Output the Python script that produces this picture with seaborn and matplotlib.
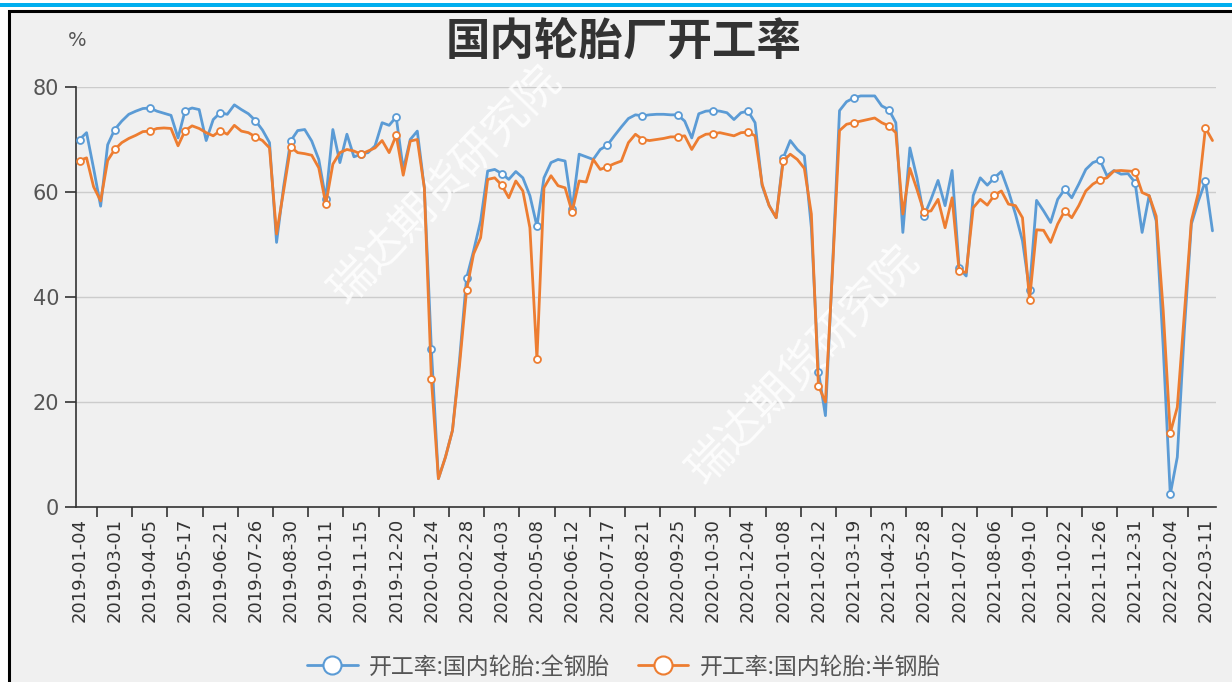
import numpy as np
import pandas as pd
import matplotlib
matplotlib.use('Agg')
import matplotlib.pyplot as plt
from matplotlib.patches import Rectangle
from matplotlib.lines import Line2D
import seaborn as sns

# weekly dates, weeks that are not in the source series are dropped
weeks = pd.date_range('2019-01-04', '2022-03-18', freq='7D')
missing = ['2019-01-25', '2019-02-01', '2019-02-08', '2019-05-03',
           '2019-10-04', '2021-10-01']
dates = weeks.drop(pd.to_datetime(missing)).strftime('%Y-%m-%d').tolist()

# 开工率:国内轮胎:全钢胎
all_steel = [70.0, 71.3, 64.5, 57.3, 69.0, 71.9, 73.5, 74.8, 75.4, 75.9,
             76.0, 75.4, 75.0, 74.6, 70.3, 75.5, 76.0, 75.7, 69.8, 73.8,
             75.1, 74.8, 76.6, 75.7, 74.9, 73.6, 71.8, 69.4, 50.4, 61.0,
             69.7, 71.7, 71.9, 69.7, 66.2, 58.6, 71.9, 65.6, 71.0, 66.7,
             67.2, 67.5, 68.8, 73.2, 72.7, 74.3, 64.3, 70.0, 71.6, 60.8,
             30.1, 5.4, 9.5, 14.6, 28.0, 43.6, 48.8, 54.5, 64.0, 64.3,
             63.5, 62.4, 63.9, 62.7, 59.3, 53.5, 62.7, 65.6, 66.2, 65.9,
             56.7, 67.2, 66.7, 66.2, 68.1, 68.9, 70.7, 72.4, 74.0, 74.7,
             74.5, 74.7, 74.8, 74.8, 74.7, 74.7, 73.5, 70.3, 74.9, 75.4,
             75.5, 75.4, 75.1, 73.8, 75.1, 75.4, 73.2, 61.2, 57.4, 55.1,
             66.5, 69.8, 68.1, 66.9, 53.2, 25.8, 17.4, 45.6, 75.5, 77.2,
             77.9, 78.3, 78.3, 78.3, 76.4, 75.7, 73.2, 52.3, 68.4, 62.7,
             55.4, 58.6, 62.2, 57.4, 64.1, 45.5, 44.0, 59.3, 62.7, 61.3,
             62.7, 63.9, 60.2, 55.8, 50.7, 41.3, 58.4, 56.4, 54.2, 58.6,
             60.5, 58.9, 61.5, 64.3, 65.6, 66.1, 63.1, 64.1, 63.4, 63.5,
             61.8, 52.3, 59.3, 54.5, 30.4, 2.4, 9.5, 33.6, 53.9, 58.3,
             62.1, 52.6]

# 开工率:国内轮胎:半钢胎
semi_steel = [66.0, 66.5, 61.0, 58.3, 66.0, 68.1, 69.4, 70.2, 70.8, 71.5,
              71.6, 72.1, 72.2, 72.1, 68.8, 71.7, 72.6, 72.1, 71.3, 70.7,
              71.7, 71.0, 72.7, 71.6, 71.3, 70.5, 69.8, 68.4, 52.0, 60.2,
              68.6, 67.5, 67.3, 67.0, 64.6, 57.7, 65.3, 67.5, 68.1, 67.8,
              67.2, 67.8, 68.4, 69.8, 67.5, 70.8, 63.2, 69.7, 70.0, 60.8,
              24.4, 5.4, 9.5, 14.6, 27.0, 41.3, 48.2, 51.3, 62.4, 62.7,
              61.3, 58.9, 62.1, 60.2, 53.2, 28.2, 60.8, 63.1, 61.2, 60.8,
              56.2, 62.1, 61.9, 66.2, 64.3, 64.8, 65.4, 65.9, 69.4, 71.0,
              70.0, 69.8, 70.0, 70.2, 70.5, 70.5, 70.7, 68.1, 70.3, 71.0,
              71.1, 71.3, 71.0, 70.7, 71.3, 71.4, 70.7, 61.5, 57.4, 55.1,
              65.9, 67.2, 66.2, 64.5, 55.8, 23.1, 20.0, 45.0, 71.7, 72.9,
              73.2, 73.5, 73.8, 74.1, 73.2, 72.6, 71.3, 55.8, 64.5, 60.5,
              56.2, 56.4, 58.6, 53.2, 58.9, 44.9, 44.7, 57.0, 58.6, 57.5,
              59.4, 60.2, 57.7, 57.4, 55.1, 39.4, 52.8, 52.7, 50.4, 53.9,
              56.4, 55.1, 57.4, 60.2, 61.5, 62.3, 62.7, 64.0, 64.1, 64.0,
              63.9, 59.9, 59.3, 55.4, 37.4, 14.1, 19.0, 36.8, 54.5, 59.9,
              72.2, 69.8]

series_names = ['开工率:国内轮胎:全钢胎', '开工率:国内轮胎:半钢胎']
colors = ['#5b9bd5', '#ed7d31']

df = pd.DataFrame({'idx': np.arange(len(dates)), 'date': dates,
                   series_names[0]: all_steel, series_names[1]: semi_steel})

sns.set_theme(style='white')
plt.rcParams['font.family'] = ['Noto Sans CJK SC', 'DejaVu Sans']
plt.rcParams['axes.unicode_minus'] = False

fig = plt.figure(figsize=(12.32, 6.82), dpi=100, facecolor='white')
# blue strip at top and framed grey panel
fig.patches.append(Rectangle((0, 675 / 682), 1, 4 / 682, transform=fig.transFigure,
                             facecolor='#00aeef', edgecolor='none', zorder=-2))
fig.patches.append(Rectangle((9 / 1232, -0.05), 1.05, 1.05 - 11 / 682,
                             transform=fig.transFigure, facecolor='#f0f0f0',
                             edgecolor='black', lw=2.2, zorder=-2))

ax = fig.add_axes([76 / 1232, 1 - 507 / 682, (1216 - 76) / 1232, (507 - 87) / 682])
ax.set_zorder(1)
ax.set_facecolor('none')

for name, c in zip(series_names, colors):
    sns.lineplot(data=df, x='idx', y=name, ax=ax, color=c, lw=2.0,
                 marker='o', markevery=5, markersize=5, markerfacecolor='white',
                 markeredgecolor=c, markeredgewidth=1.3, legend=False,
                 solid_joinstyle='round', zorder=3)

ax.set_xlim(-0.5, len(dates) - 0.5)
ax.set_ylim(0, 80)
ax.set_yticks([0, 20, 40, 60, 80])
ax.yaxis.grid(True, color='#cccccc', lw=1)
ax.set_axisbelow(True)
ax.set_xlabel('')
ax.set_ylabel('')

ticks = list(range(0, len(dates), 5))
ax.set_xticks(ticks)
ax.set_xticklabels([dates[i] for i in ticks], rotation=90, fontsize=13,
                   color='#333333', family='DejaVu Sans')
ax.set_xticks([t + 2.5 for t in ticks if t + 2.5 < len(dates)], minor=True)
ax.tick_params(axis='x', which='major', length=0, pad=8)
ax.tick_params(axis='x', which='minor', length=7, width=1.2, color='#333333', bottom=True)
ax.tick_params(axis='y', length=8, width=1.2, color='#333333', labelsize=15,
               labelcolor='#555555', pad=4, left=True)
for lab in ax.get_yticklabels():
    lab.set_family('DejaVu Sans')

for s in ['top', 'right']:
    ax.spines[s].set_visible(False)
for s in ['left', 'bottom']:
    ax.spines[s].set_color('#333333')
    ax.spines[s].set_linewidth(1.2)

fig.text(77 / 1232, 1 - 41 / 682, '%', fontsize=14, color='#555555',
         ha='center', va='center', family='DejaVu Sans')
fig.text(624 / 1232, 1 - 43 / 682, '国内轮胎厂开工率', fontsize=32, fontweight='bold',
         color='#333333', ha='center', va='center')

# watermarks, behind the lines
for cx, cy in [(445, 185), (803, 365)]:
    ax.text(cx / 1232, 1 - cy / 682, '瑞达期货研究院', fontsize=32, color='white',
            alpha=0.85, rotation=46, ha='center', va='center', zorder=1,
            rotation_mode='anchor', transform=fig.transFigure, clip_on=False)

handles = [Line2D([], [], color=c, lw=2, marker='o', markersize=13,
                  markerfacecolor='white', markeredgecolor=c, markeredgewidth=1.5)
           for c in colors]
fig.legend(handles, series_names, loc='center', bbox_to_anchor=(624 / 1232, 15 / 682),
           ncol=2, frameon=False, fontsize=16.5, handlelength=2.2, handletextpad=0.5,
           columnspacing=1.2, labelcolor='#555555')

fig.savefig('out.png', dpi=100, facecolor=fig.get_facecolor())
